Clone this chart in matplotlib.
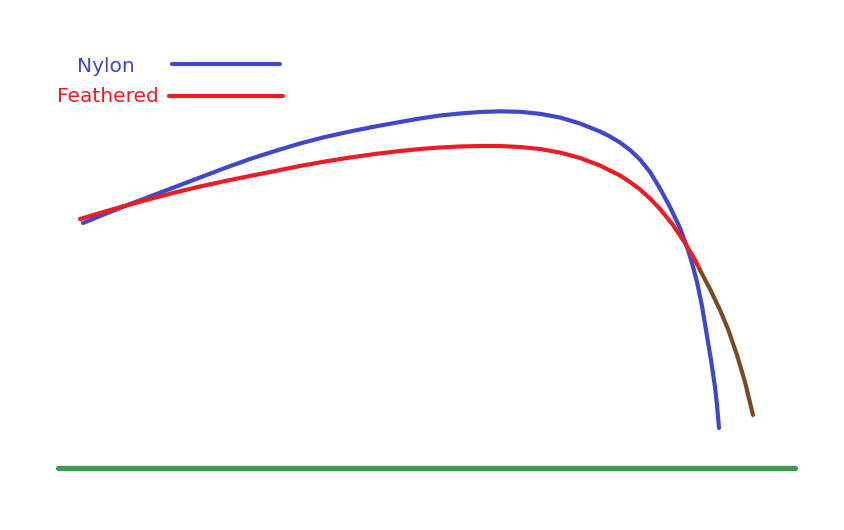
import matplotlib
matplotlib.use("Agg")
import matplotlib.pyplot as plt

# Trajectory data (horizontal distance, height in picture units; y grows downward)
nylon_x = [83, 100, 125, 150, 175, 200, 225, 250, 275, 300, 325, 350, 375, 400, 420, 440,
           460, 480, 500, 520, 540, 560, 580, 600, 610, 620, 630, 640, 650, 660, 670, 680,
           687, 692, 697, 702, 707, 711, 715, 717, 719]
nylon_y = [223, 216, 206, 196.5, 187, 177.5, 168, 159, 151, 143.5, 137, 131.5, 126.5, 122, 118.5, 115.5,
           113.5, 112, 111.3, 111.8, 113.8, 117.5, 123.5, 131.5, 136.5, 142.5, 150, 159.5, 172, 188.5, 207, 228,
           247, 263, 282, 306, 336, 360, 387, 405, 428]

feather_x = [80, 100, 125, 150, 175, 200, 225, 250, 275, 300, 325, 350, 375, 400, 420, 440,
             460, 480, 500, 520, 540, 560, 580, 600, 620, 630, 640, 650, 660, 673, 685, 695, 700]
feather_y = [219, 213, 205.8, 199, 192.5, 186.5, 181, 176, 171, 166, 161.5, 157.5, 154, 151, 149, 147.5,
             146.5, 146, 146, 147, 149, 152.5, 158, 165.5, 175.5, 182, 189.5, 198.5, 209, 225, 243, 260, 270]

fall_x = [700, 710, 720, 728, 737, 745, 753]
fall_y = [270, 289, 310, 329, 355, 382, 415]

ground_x = [58, 795]
ground_y = [468, 468]

labels = ["Nylon", "Feathered"]

BLUE = "#3f48cc"
RED = "#ed1c24"
BROWN = "#7a4b20"
GREEN = "#3e9b4f"

fig = plt.figure(figsize=(8.45, 5.3), dpi=100)
ax = fig.add_axes([0, 0, 1, 1])
ax.set_xlim(0, 845)
ax.set_ylim(530, 0)
ax.axis("off")

lw = 3.0
ax.plot(ground_x, ground_y, color=GREEN, lw=3.8, solid_capstyle="round")
ax.plot(nylon_x, nylon_y, color=BLUE, lw=lw, solid_capstyle="round", solid_joinstyle="round")
ax.plot(feather_x, feather_y, color=RED, lw=lw, solid_capstyle="round", solid_joinstyle="round")
ax.plot(fall_x, fall_y, color=BROWN, lw=lw, solid_capstyle="round", solid_joinstyle="round")

# legend
ax.text(106, 66, labels[0], color=BLUE, fontsize=14.5, ha="center", va="center")
ax.plot([172, 280], [64, 64], color=BLUE, lw=lw, solid_capstyle="round")
ax.text(108, 97, labels[1], color=RED, fontsize=14.5, ha="center", va="center")
ax.plot([169, 283], [96, 96], color=RED, lw=lw, solid_capstyle="round")

fig.savefig("out.png", dpi=100)
